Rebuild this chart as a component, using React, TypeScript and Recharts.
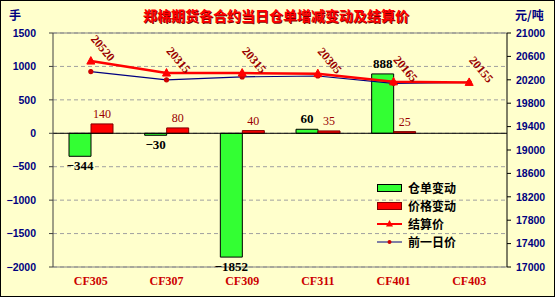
import {
  Bar,
  CartesianGrid,
  ComposedChart,
  LabelList,
  Legend,
  Line,
  ReferenceLine,
  XAxis,
  YAxis,
} from "recharts";

const contracts = ["CF305", "CF307", "CF309", "CF311", "CF401", "CF403"];
const receiptChange = [-344, -30, -1852, 60, 888, 0];
const priceChange = [140, 80, 40, 35, 25, 0];
const settlePrice = [20520, 20315, 20315, 20305, 20165, 20155];
const prevPrice = [20340, 20200, 20250, 20265, 20140, 20155];
const leftTicks = [-2000, -1500, -1000, -500, 0, 500, 1000, 1500];
const rightTicks = [
  17000, 17400, 17800, 18200, 18600, 19000, 19400, 19800, 20200, 20600, 21000,
];

const data = contracts.map((name, i) => ({
  name,
  receipt: receiptChange[i],
  price: priceChange[i],
  settle: settlePrice[i],
  prev: prevPrice[i],
}));

const NAVY = "#000080";
const BG = "#ffffcc";
const axisTick = {
  fill: NAVY,
  fontSize: 10.5,
  fontWeight: 700,
  fontFamily: "Liberation Sans, Arial, sans-serif",
};

function fmt(v: number) {
  return v < 0 ? `\u2212${Math.abs(v)}` : `${v}`;
}

function barLabel(color: string, size: number, weight: number) {
  return (props: any) => {
    const { x, y, width, height, value } = props;
    const top = Math.min(y, y + height);
    const bottom = Math.max(y, y + height);
    const v = Number(value);
    return (
      <text
        x={x + width / 2}
        y={v < 0 ? bottom + 14 : top - 6}
        textAnchor="middle"
        fill={color}
        fontSize={size}
        fontWeight={weight}
        fontFamily="Liberation Serif, serif"
      >
        {fmt(v)}
      </text>
    );
  };
}

// triangle marker plus the slanted settlement price next to it
function SettleDot(props: any) {
  const { cx, cy, index, payload } = props;
  if (cx == null || cy == null) return <g key={index} />;
  const lx = cx + 12;
  const ly = cy - 13;
  return (
    <g key={index}>
      <polygon
        points={`${cx},${cy - 4.5} ${cx - 4},${cy + 3} ${cx + 4},${cy + 3}`}
        fill="#ff0000"
        stroke="#ff0000"
      />
      <text
        x={lx}
        y={ly + 4}
        transform={`rotate(50 ${lx} ${ly})`}
        textAnchor="middle"
        fill="#990000"
        fontSize={12}
        fontWeight={700}
        fontFamily="Liberation Serif, serif"
      >
        {payload.settle}
      </text>
    </g>
  );
}

function LegendBox() {
  const row = { display: "flex", alignItems: "center", height: 18 } as const;
  const label = {
    marginLeft: 5,
    fontSize: 12,
    fontWeight: 700,
    color: "#000",
    fontFamily: "Noto Sans CJK SC, sans-serif",
    lineHeight: "18px",
  };
  return (
    <div>
      <div style={row}>
        <svg width={26} height={10}>
          <rect x={0.5} y={1.5} width={24} height={7} fill="#33ff33" stroke="#000" />
        </svg>
        <span style={label}>仓单变动</span>
      </div>
      <div style={row}>
        <svg width={26} height={10}>
          <rect x={0.5} y={1.5} width={24} height={7} fill="#ff0000" stroke="#800000" />
        </svg>
        <span style={label}>价格变动</span>
      </div>
      <div style={row}>
        <svg width={26} height={10}>
          <line x1={0} y1={5} x2={25} y2={5} stroke="#ff0000" strokeWidth={2} />
          <polygon points="12.5,1 9,7.5 16,7.5" fill="#ff0000" />
        </svg>
        <span style={label}>结算价</span>
      </div>
      <div style={row}>
        <svg width={26} height={10}>
          <line x1={0} y1={5} x2={25} y2={5} stroke={NAVY} strokeWidth={1} />
          <circle cx={12.5} cy={5} r={2} fill="#cc0000" />
        </svg>
        <span style={label}>前一日价</span>
      </div>
    </div>
  );
}

export default function App() {
  return (
    <div
      style={{
        position: "fixed",
        left: 0,
        top: 0,
        width: 553,
        height: 295,
        border: "1px solid #000",
        background: BG,
      }}
    >
      <div
        style={{
          position: "absolute",
          left: 0,
          width: 550,
          top: 5,
          textAlign: "center",
          color: "#ff0000",
          fontWeight: 700,
          fontSize: 14,
          fontFamily: "Noto Sans CJK SC, sans-serif",
          textShadow: "1px 1px 0 #800000",
          lineHeight: "18px",
        }}
      >
        郑棉期货各合约当日仓单增减变动及结算价
      </div>
      <div
        style={{
          position: "absolute",
          left: 8,
          top: 5,
          color: NAVY,
          fontWeight: 700,
          fontSize: 12,
          fontFamily: "Noto Sans CJK SC, sans-serif",
          lineHeight: "18px",
        }}
      >
        手
      </div>
      <div
        style={{
          position: "absolute",
          left: 514,
          top: 5,
          color: NAVY,
          fontWeight: 700,
          fontSize: 12,
          fontFamily: "Noto Sans CJK SC, sans-serif",
          lineHeight: "18px",
        }}
      >
        元/吨
      </div>
      <ComposedChart
        width={553}
        height={295}
        data={data}
        margin={{ top: 32, right: 0, bottom: 0, left: 0 }}
        barGap={0}
        barSize={22}
      >
        <CartesianGrid
          horizontal
          vertical={false}
          yAxisId="left"
          stroke="#a0a0a0"
          strokeDasharray="4 3"
        />
        <XAxis
          dataKey="name"
          height={29}
          tickSize={0}
          tickMargin={9}
          axisLine={{ stroke: "#808080" }}
          tick={{
            fill: "#cc0000",
            fontSize: 12,
            fontWeight: 700,
            fontFamily: "Liberation Serif, serif",
          }}
        />
        <YAxis
          yAxisId="left"
          width={52}
          domain={[-2000, 1500]}
          ticks={leftTicks}
          tickFormatter={fmt}
          interval={0}
          tickSize={4}
          tickMargin={13}
          axisLine={{ stroke: "#404040" }}
          tickLine={{ stroke: "#404040" }}
          tick={axisTick}
        />
        <YAxis
          yAxisId="right"
          orientation="right"
          width={47}
          domain={[17000, 21000]}
          ticks={rightTicks}
          interval={0}
          tickSize={4}
          tickMargin={5}
          axisLine={{ stroke: "#000" }}
          tickLine={{ stroke: "#000" }}
          tick={axisTick}
        />
        <ReferenceLine yAxisId="left" y={1500} stroke="#808080" />
        <ReferenceLine yAxisId="left" y={0} stroke="#000" />
        <Legend
          layout="horizontal"
          verticalAlign="middle"
          align="center"
          wrapperStyle={{ left: 376, top: 178, width: 110, height: 72 }}
          content={() => <LegendBox />}
        />
        <Bar
          yAxisId="left"
          dataKey="receipt"
          name="仓单变动"
          fill="#33ff33"
          stroke="#000"
          strokeWidth={1}
          isAnimationActive={false}
        >
          <LabelList dataKey="receipt" content={barLabel("#000", 13, 700)} />
        </Bar>
        <Bar
          yAxisId="left"
          dataKey="price"
          name="价格变动"
          fill="#ff0000"
          stroke="#800000"
          strokeWidth={1}
          isAnimationActive={false}
        >
          <LabelList dataKey="price" content={barLabel("#990000", 12, 400)} />
        </Bar>
        <Line
          yAxisId="right"
          dataKey="prev"
          name="前一日价"
          stroke={NAVY}
          strokeWidth={1.2}
          dot={{ r: 2, fill: "#cc0000", stroke: "#cc0000" }}
          isAnimationActive={false}
        />
        <Line
          yAxisId="right"
          dataKey="settle"
          name="结算价"
          stroke="#ff0000"
          strokeWidth={2.5}
          dot={SettleDot}
          isAnimationActive={false}
        />
      </ComposedChart>
    </div>
  );
}
